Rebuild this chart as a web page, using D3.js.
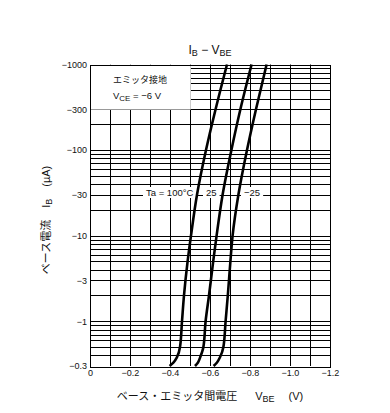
<!DOCTYPE html>
<html>
<head>
<meta charset="utf-8">
<script src="https://cdn.jsdelivr.net/npm/d3@7"></script>
<style>
  body { margin: 0; background: #fff; }
  text { font-family: "Liberation Sans", Arial, sans-serif; fill: #111; }
  .jp { font-family: "Noto Sans CJK JP", "Liberation Sans", sans-serif; }
</style>
</head>
<body>
<div id="content"></div>
<script>
// base current levels (magnitude, uA) at which V_BE was read
var ibLevels = [0.3, 0.33, 0.38, 0.5, 1, 2, 5, 10, 30, 100, 300, 1000];
// V_BE magnitude (V) per temperature
var vbe100 = [0.398, 0.418, 0.435, 0.450, 0.460, 0.470, 0.488, 0.505, 0.535, 0.580, 0.628, 0.685];
var vbe25 = [0.525, 0.540, 0.551, 0.567, 0.578, 0.595, 0.616, 0.633, 0.663, 0.707, 0.752, 0.808];
var vbeM25 = [0.618, 0.635, 0.650, 0.667, 0.678, 0.689, 0.702, 0.713, 0.742, 0.785, 0.830, 0.883];

var yTicks = [1000, 300, 100, 30, 10, 3, 1, 0.3];
var yTickLabels = ["−1000", "−300", "−100", "−30", "−10", "−3", "−1", "−0.3"];
var xTicks = [0, 0.2, 0.4, 0.6, 0.8, 1.0, 1.2];
var xTickLabels = ["0", "−0.2", "−0.4", "−0.6", "−0.8", "−1.0", "−1.2"];

var width = 390, height = 413;
var plotL = 90, plotR = 330, plotT = 64.5, plotB = 366;

var svg = d3.select("#content").append("svg").attr("width", width).attr("height", height);

var x = d3.scaleLinear().domain([0, 1.2]).range([plotL, plotR]);
var y = d3.scaleLog().domain([0.3, 1000]).range([plotB, plotT]);

function crisp(v) { return Math.round(v) + 0.5; }

// grid
var grid = svg.append("g").attr("stroke", "#000").attr("stroke-width", 1);
grid.selectAll(".vg")
    .data(d3.range(1, 12))
    .enter()
    .append("line")
    .attr("x1", d => crisp(x(d / 10)))
    .attr("x2", d => crisp(x(d / 10)))
    .attr("y1", plotT)
    .attr("y2", plotB);

var minor = [];
[0.1, 1, 10, 100].forEach(function (dec) {
    for (var k = 1; k <= 9; k++) {
        var v = dec * k;
        if (v > 0.3 + 1e-9 && v < 1000 - 1e-9) minor.push(v);
    }
});
grid.selectAll(".hg")
    .data(minor)
    .enter()
    .append("line")
    .attr("x1", plotL)
    .attr("x2", plotR)
    .attr("y1", d => crisp(y(d)))
    .attr("y2", d => crisp(y(d)));

// condition box
var boxR = x(0.5), boxB = crisp(y(300));
svg.append("rect")
    .attr("x", plotL).attr("y", plotT)
    .attr("width", boxR - plotL).attr("height", boxB - plotT)
    .attr("fill", "#fff");
svg.append("line")
    .attr("x1", plotL).attr("x2", boxR)
    .attr("y1", boxB).attr("y2", boxB)
    .attr("stroke", "#999");
svg.append("line")
    .attr("x1", crisp(boxR)).attr("x2", crisp(boxR))
    .attr("y1", plotT).attr("y2", boxB)
    .attr("stroke", "#ccc");

svg.append("text").attr("class", "jp")
    .attr("x", 113).attr("y", 83)
    .attr("font-size", 9)
    .text("エミッタ接地");
var vce = svg.append("text").attr("x", 113).attr("y", 99).attr("font-size", 9.5);
vce.append("tspan").text("V");
vce.append("tspan").attr("font-size", 8).attr("dy", 2).text("CE");
vce.append("tspan").attr("dy", -2).text(" = −6 V");

// frame
svg.append("rect")
    .attr("x", crisp(plotL)).attr("y", crisp(plotT))
    .attr("width", Math.round(plotR - plotL)).attr("height", Math.round(plotB - plotT))
    .attr("fill", "none").attr("stroke", "#000");

// temperature labels with white background
var tempLabels = [
    { text: "Ta = 100°C", x: 146 },
    { text: "25", x: 206 },
    { text: "−25", x: 244 }
];
var tl = svg.append("g");
tempLabels.forEach(function (d) {
    var t = tl.append("text")
        .attr("x", d.x).attr("y", 196)
        .attr("font-size", 9.5)
        .text(d.text);
    var bb = t.node().getBBox();
    tl.insert("rect", "text")
        .attr("x", bb.x - 3).attr("y", bb.y)
        .attr("width", bb.width + 6).attr("height", bb.height)
        .attr("fill", "#fff");
});

// curves
var line = d3.line()
    .x(d => x(d[1]))
    .y(d => y(d[0]))
    .curve(d3.curveMonotoneY);

[vbe100, vbe25, vbeM25].forEach(function (vals) {
    svg.append("path")
        .datum(ibLevels.map((ib, i) => [ib, vals[i]]))
        .attr("d", line)
        .attr("fill", "none")
        .attr("stroke", "#000")
        .attr("stroke-width", 2.6);
});

// axes
var yAxis = svg.append("g")
    .attr("transform", `translate(${plotL}, 0)`)
    .call(d3.axisLeft(y).tickValues(yTicks).tickSize(0).tickPadding(3)
        .tickFormat((d, i) => yTickLabels[i]));
yAxis.select(".domain").remove();
yAxis.selectAll("text").attr("font-size", 9).attr("fill", "#222");
yAxis.attr("font-family", null);

var xAxis = svg.append("g")
    .attr("transform", `translate(0, ${plotB})`)
    .call(d3.axisBottom(x).tickValues(xTicks).tickSize(0).tickPadding(4)
        .tickFormat((d, i) => xTickLabels[i]));
xAxis.select(".domain").remove();
xAxis.selectAll("text").attr("font-size", 9).attr("fill", "#222");
xAxis.attr("font-family", null);

// title
var title = svg.append("text")
    .attr("x", 210).attr("y", 54)
    .attr("text-anchor", "middle")
    .attr("font-size", 12);
title.append("tspan").text("I");
title.append("tspan").attr("font-size", 9).attr("dy", 2).text("B");
title.append("tspan").attr("dy", -2).text(" − V");
title.append("tspan").attr("font-size", 9).attr("dy", 2).text("BE");

// x axis title
var xt = svg.append("text")
    .attr("x", 210).attr("y", 400)
    .attr("text-anchor", "middle")
    .attr("font-size", 11);
xt.append("tspan").attr("class", "jp").text("ベース・エミッタ間電圧");
xt.append("tspan").attr("dx", 18).text("V");
xt.append("tspan").attr("font-size", 9).attr("dy", 2).text("BE");
xt.append("tspan").attr("dy", -2).attr("dx", 14).text("(V)");

// y axis title
var yt = svg.append("text")
    .attr("transform", "translate(50, 220) rotate(-90)")
    .attr("text-anchor", "middle")
    .attr("font-size", 11);
yt.append("tspan").attr("class", "jp").text("ベース電流");
yt.append("tspan").attr("dx", 12).text("I");
yt.append("tspan").attr("font-size", 9).attr("dy", 2).text("B");
yt.append("tspan").attr("dy", -2).attr("dx", 12).text("(µA)");
</script>
</body>
</html>
